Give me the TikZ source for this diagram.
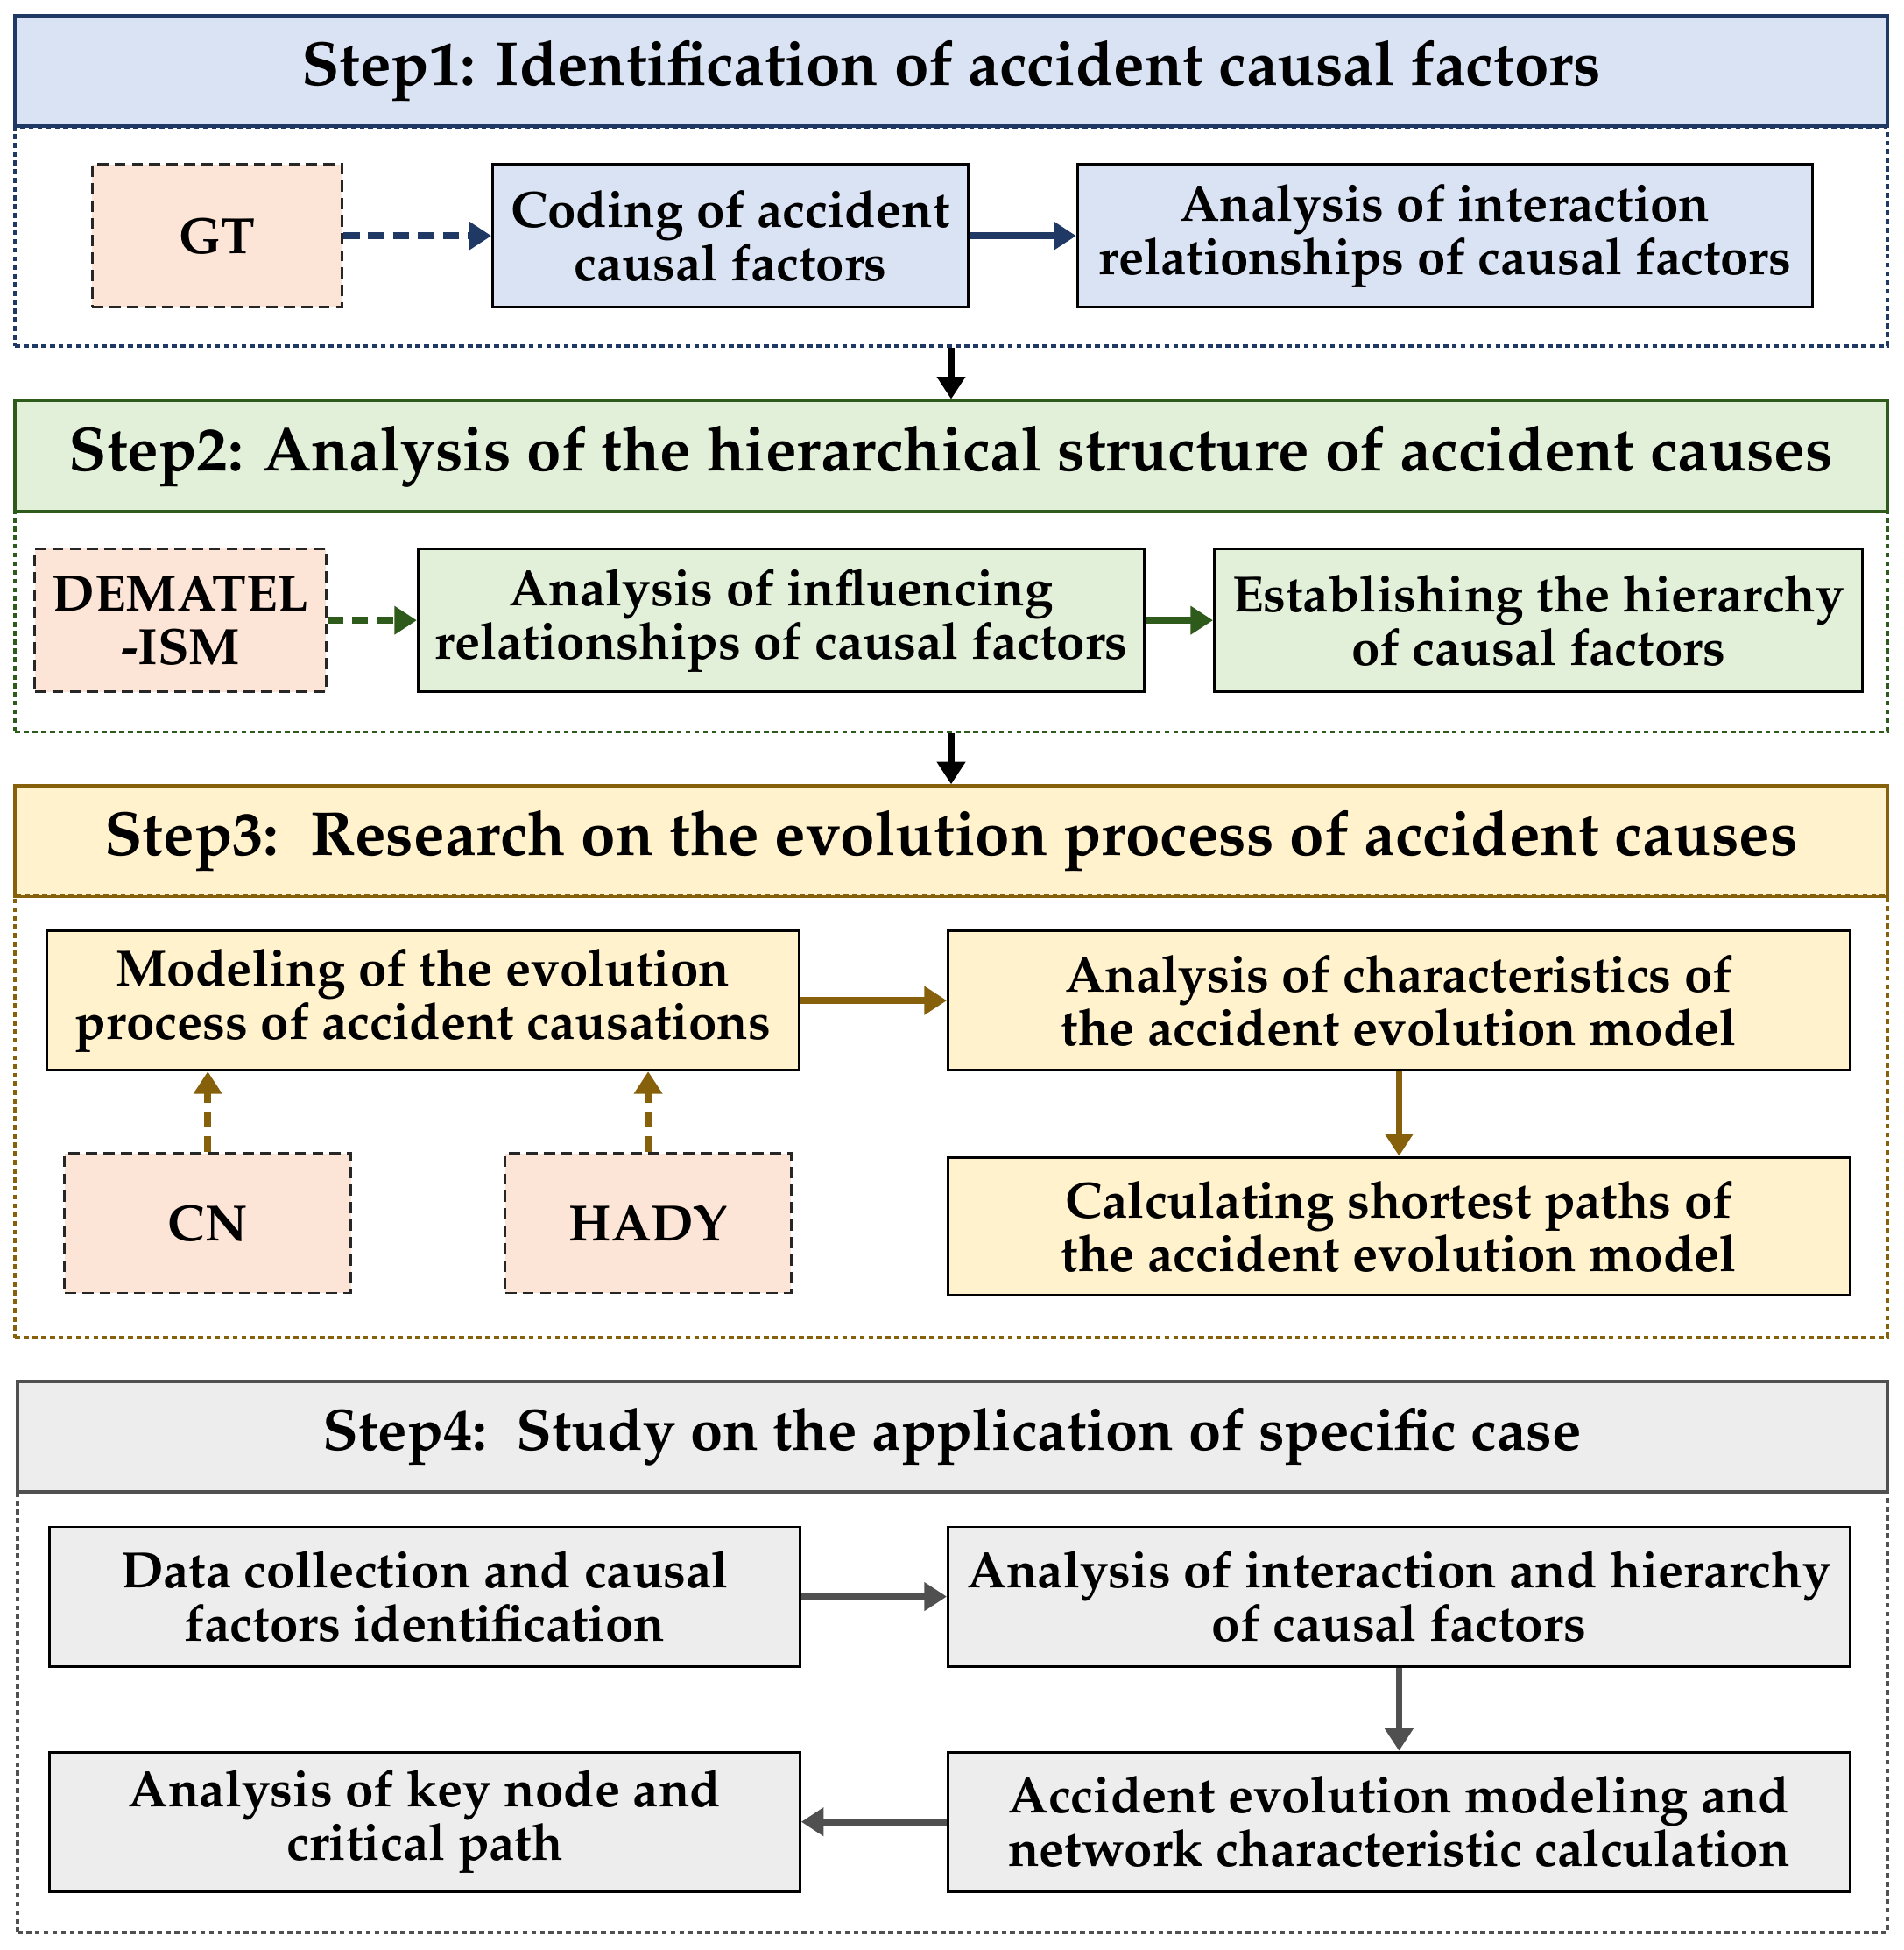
\documentclass[tikz,border=0pt]{standalone}
\usepackage[T1]{fontenc}
\usepackage{mathpazo}
\usetikzlibrary{arrows.meta}
\definecolor{bA}{HTML}{DAE3F3}\definecolor{bB}{HTML}{1F3864}
\definecolor{gA}{HTML}{E2F0D9}\definecolor{gB}{HTML}{2E5A1C}
\definecolor{yA}{HTML}{FFF2CC}\definecolor{yB}{HTML}{86600A}
\definecolor{kA}{HTML}{EDEDED}\definecolor{kB}{HTML}{505050}
\definecolor{pk}{HTML}{FCE4D6}
\newcommand{\hdrtxt}[1]{\raisebox{-8pt}{#1}}
\begin{document}
\begin{tikzpicture}[x=1pt,y=-1pt,
 box/.style={draw, line width=2pt, inner sep=0pt, align=center, font=\fontsize{41}{43}\selectfont\bfseries},
 hdr/.style={draw, line width=2.5pt, inner sep=0pt, minimum width=1505pt, minimum height=89pt, font=\fontsize{50}{54}\selectfont\bfseries},
 outer/.style={draw, dash pattern=on 4pt off 3pt, line width=2.5pt, inner sep=0pt, minimum width=1505pt},
 tool/.style={box, dash pattern=on 9pt off 5pt, fill=pk, draw=black!85},
 arr/.style={line width=5.5pt, -{Triangle[length=18pt,width=22pt]}},
 darr/.style={arr, dash pattern=on 13pt off 7pt}]
\useasboundingbox (0,0) rectangle (1530,1567);
% Step1
\node[hdr, fill=bA, draw=bB] (h1) at (764.5,57) {\hdrtxt{Step1: Identification of accident causal factors}};
\node[outer, draw=bB, minimum height=176pt] (o1) at (764.5,190) {};
\node[tool, minimum width=201pt, minimum height=115pt] (gt) at (174.5,189.5) {GT};
\node[box, fill=bA, minimum width=382pt, minimum height=115pt] (cod) at (587,189.5) {Coding of accident\\causal factors};
\node[box, fill=bA, minimum width=591pt, minimum height=115pt] (ai) at (1161.5,189.5) {Analysis of interaction\\relationships of causal factors};
\draw[darr, draw=bB] (gt) -- (cod);
\draw[arr, draw=bB] (cod) -- (ai);
% Step2
\node[hdr, fill=gA, draw=gB] (h2) at (764.5,366.5) {\hdrtxt{Step2: Analysis of the hierarchical structure of accident causes}};
\node[outer, draw=gB, minimum height=177pt] (o2) at (764.5,499.5) {};
\node[tool, minimum width=234pt, minimum height=115pt] (dem) at (145,498.5) {DEMATEL\\-ISM};
\node[box, fill=gA, minimum width=584pt, minimum height=115pt] (inf) at (628,498.5) {Analysis of influencing\\relationships of causal factors};
\node[box, fill=gA, minimum width=521pt, minimum height=115pt] (est) at (1236.5,498.5) {Establishing the hierarchy\\of causal factors};
\draw[darr, draw=gB] (dem) -- (inf);
\draw[arr, draw=gB] (inf) -- (est);
\draw[arr, line width=5pt] (o1.south) -- (h2.north);
% Step3
\node[hdr, fill=yA, draw=yB] (h3) at (764.5,676) {\hdrtxt{Step3:\ \ Research on the evolution process of accident causes}};
\node[outer, draw=yB, minimum height=355pt] (o3) at (764.5,897.5) {};
\node[box, fill=yA, minimum width=604pt, minimum height=112pt] (mod) at (340,804) {Modeling of the evolution\\process of accident causations};
\node[box, fill=yA, minimum width=725pt, minimum height=112pt] (chr) at (1124.5,804) {Analysis of characteristics of\\the accident evolution model};
\node[box, fill=yA, minimum width=725pt, minimum height=111pt] (cal) at (1124.5,985.5) {Calculating shortest paths of\\the accident evolution model};
\node[tool, minimum width=230pt, minimum height=112pt] (cn) at (167,983) {CN};
\node[tool, minimum width=230pt, minimum height=112pt] (hady) at (521,983) {HADY};
\draw[arr, draw=yB] (mod) -- (chr);
\draw[arr, draw=yB] (chr) -- (cal);
\draw[darr, draw=yB] (cn) -- (cn|-mod.south);
\draw[darr, draw=yB] (hady.north) -- (hady.north|-mod.south);
\draw[arr, line width=5pt] (o2.south) -- (h3.north);
% Step4
\node[hdr, fill=kA, draw=kB, minimum width=1503pt, font=\fontsize{47}{50}\selectfont\bfseries] (h4) at (765.5,1154.5) {\hdrtxt{Step4:\ \ Study on the application of specific case}};
\node[outer, draw=kB, minimum width=1503pt, minimum height=354pt] (o4) at (765.5,1376) {};
\node[box, fill=kA, minimum width=603pt, minimum height=112pt] (dat) at (341.5,1283) {Data collection and causal\\factors identification};
\node[box, fill=kA, minimum width=725pt, minimum height=112pt] (ih) at (1124.5,1283) {Analysis of interaction and hierarchy\\of causal factors};
\node[box, fill=kA, minimum width=725pt, minimum height=112pt] (acc) at (1124.5,1464) {Accident evolution modeling and\\network characteristic calculation};
\node[box, fill=kA, minimum width=603pt, minimum height=112pt] (key) at (341.5,1464) {Analysis of key node and\\critical path};
\draw[arr, draw=kB] (dat) -- (ih);
\draw[arr, draw=kB] (ih) -- (acc);
\draw[arr, draw=kB] (acc) -- (key);
\end{tikzpicture}
\end{document}
